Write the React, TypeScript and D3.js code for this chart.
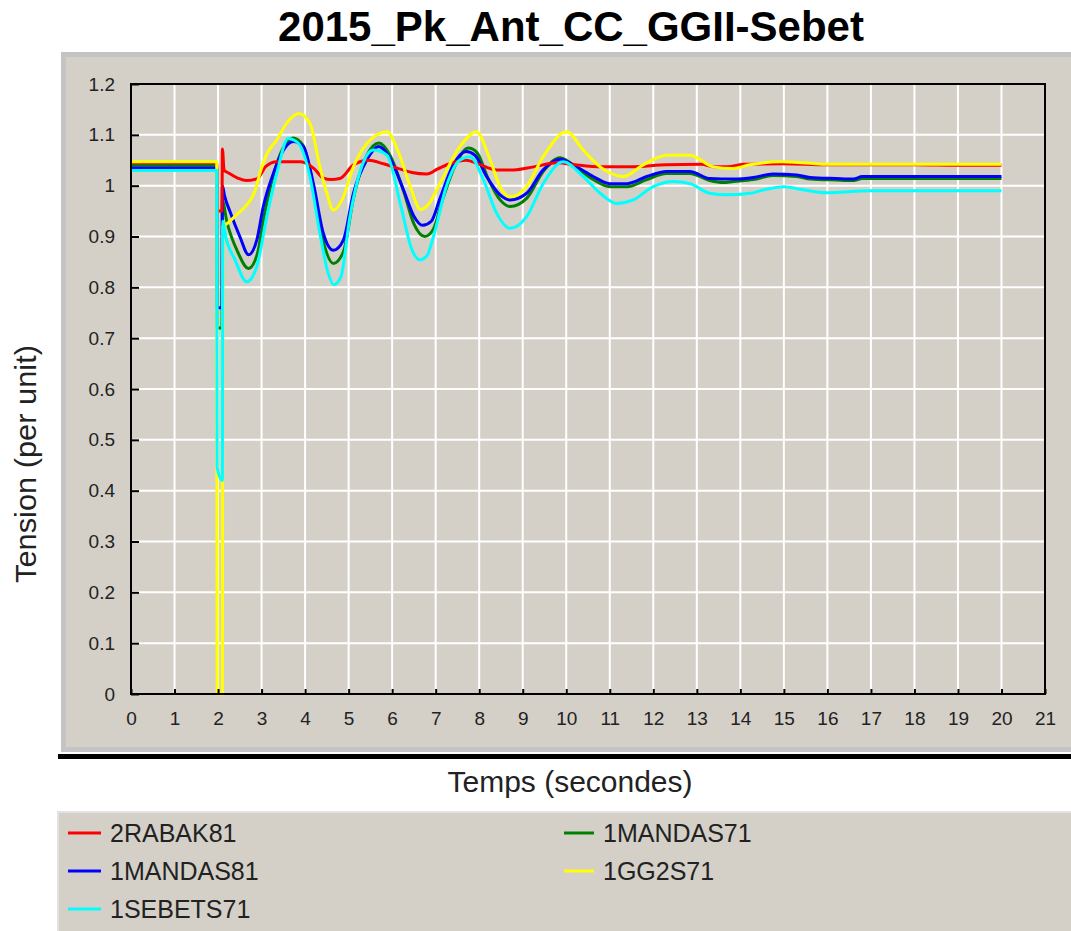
import { useRef, useEffect } from "react";
import * as d3 from "d3";

// [temps (s), tension (pu)]
const rabak81 = [
  [0, 1.045], [1.97, 1.045], [1.98, 0.95], [2.09, 0.95], [2.1, 1.072], [2.14, 1.03],
  [2.2, 1.027], [2.45, 1.015], [2.65, 1.01], [2.9, 1.014], [3.1, 1.038], [3.35, 1.047],
  [3.9, 1.047], [4.2, 1.034], [4.42, 1.015], [4.6, 1.012], [4.8, 1.014], [5.1, 1.04],
  [5.45, 1.05], [5.8, 1.043], [6.1, 1.035], [6.45, 1.026], [6.8, 1.023], [7.05, 1.033],
  [7.35, 1.044], [7.7, 1.05], [8.0, 1.042], [8.4, 1.031], [8.8, 1.031], [9.25, 1.037],
  [9.8, 1.045], [10.2, 1.041], [10.8, 1.037], [11.5, 1.037], [12.3, 1.041], [13.1, 1.042],
  [13.4, 1.037], [13.7, 1.037], [14.1, 1.042], [15.0, 1.043], [16, 1.041], [17, 1.041],
  [18, 1.041], [19, 1.04], [20, 1.04],
];

const mandas71 = [
  [0, 1.04], [1.97, 1.04], [1.98, 0.72], [2.09, 0.72], [2.1, 0.97], [2.2, 0.93],
  [2.45, 0.87], [2.7, 0.837], [2.9, 0.865], [3.06, 0.94], [3.27, 1.02], [3.5, 1.075],
  [3.72, 1.094], [3.95, 1.08], [4.19, 1.0], [4.42, 0.89], [4.65, 0.847], [4.88, 0.87],
  [5.11, 0.975], [5.42, 1.06], [5.7, 1.084], [5.95, 1.06], [6.26, 0.99], [6.5, 0.925],
  [6.75, 0.9], [6.95, 0.915], [7.15, 0.97], [7.45, 1.04], [7.75, 1.074], [7.95, 1.065],
  [8.2, 1.015], [8.48, 0.972], [8.71, 0.959], [9.09, 0.975], [9.47, 1.028], [9.86, 1.055],
  [10.24, 1.035], [10.62, 1.012], [11.0, 0.998], [11.4, 0.998], [11.85, 1.012], [12.3, 1.024],
  [12.84, 1.024], [13.3, 1.01], [13.6, 1.006], [13.84, 1.008], [14.3, 1.012], [14.75, 1.02],
  [15.3, 1.018], [15.6, 1.013], [16.2, 1.011], [16.6, 1.01], [16.8, 1.014], [20, 1.014],
];

const mandas81 = [
  [0, 1.035], [1.97, 1.035], [1.98, 0.76], [2.09, 0.76], [2.1, 1.0], [2.15, 0.98],
  [2.27, 0.95], [2.5, 0.9], [2.7, 0.864], [2.89, 0.893], [3.04, 0.959], [3.27, 1.024],
  [3.5, 1.07], [3.73, 1.087], [3.96, 1.077], [4.19, 1.004], [4.42, 0.906], [4.65, 0.873],
  [4.88, 0.893], [5.11, 0.985], [5.42, 1.051], [5.69, 1.077], [5.95, 1.054], [6.26, 0.992],
  [6.5, 0.94], [6.7, 0.922], [6.9, 0.93], [7.1, 0.975], [7.4, 1.04], [7.7, 1.067],
  [7.9, 1.06], [8.17, 1.018], [8.48, 0.982], [8.71, 0.972], [9.09, 0.985], [9.47, 1.031],
  [9.86, 1.052], [10.24, 1.037], [10.62, 1.018], [11.0, 1.004], [11.4, 1.004], [11.85, 1.018],
  [12.3, 1.028], [12.84, 1.028], [13.3, 1.014], [13.84, 1.013], [14.3, 1.016], [14.75, 1.023],
  [15.3, 1.021], [15.6, 1.016], [16.2, 1.014], [16.6, 1.013], [16.8, 1.018], [20, 1.018],
];

const gg2s71 = [
  [0, 1.047], [1.97, 1.047], [1.98, 0], [2.1, 0], [2.11, 0.92], [2.2, 0.925],
  [2.45, 0.945], [2.66, 0.962], [2.85, 0.99], [2.96, 1.024], [3.12, 1.062], [3.35, 1.09],
  [3.58, 1.123], [3.85, 1.142], [4.11, 1.123], [4.34, 1.037], [4.5, 0.985], [4.65, 0.952],
  [4.85, 0.972], [5.11, 1.037], [5.42, 1.083], [5.88, 1.106], [6.15, 1.065], [6.45, 0.99],
  [6.65, 0.953], [6.85, 0.965], [7.1, 1.005], [7.56, 1.077], [7.94, 1.106], [8.25, 1.051],
  [8.48, 0.998], [8.71, 0.978], [9.09, 0.998], [9.47, 1.057], [10.01, 1.106], [10.39, 1.07],
  [10.78, 1.037], [11.31, 1.018], [11.77, 1.041], [12.31, 1.06], [12.84, 1.06], [13.38, 1.037],
  [13.84, 1.034], [14.22, 1.041], [14.91, 1.047], [15.6, 1.044], [16, 1.042], [20, 1.042],
];

const sebets71 = [
  [0, 1.03], [1.97, 1.03], [1.98, 0.445], [2.1, 0.42], [2.11, 0.93], [2.16, 0.906],
  [2.39, 0.854], [2.66, 0.811], [2.89, 0.841], [3.12, 0.939], [3.35, 1.024], [3.61, 1.093],
  [3.85, 1.083], [4.11, 1.018], [4.34, 0.906], [4.53, 0.828], [4.66, 0.805], [4.82, 0.82],
  [5.03, 0.939], [5.3, 1.037], [5.57, 1.07], [5.88, 1.06], [6.2, 0.96], [6.45, 0.875],
  [6.64, 0.854], [6.8, 0.862], [6.95, 0.9], [7.25, 1.0], [7.55, 1.05], [7.79, 1.057],
  [8.1, 1.011], [8.4, 0.946], [8.71, 0.916], [9.09, 0.939], [9.47, 1.004], [9.93, 1.047],
  [10.39, 1.018], [10.78, 0.985], [11.16, 0.965], [11.54, 0.972], [12.0, 0.998], [12.46, 1.008],
  [12.84, 1.004], [13.3, 0.985], [13.69, 0.982], [14.22, 0.985], [14.6, 0.993], [15.0, 0.998],
  [15.37, 0.993], [15.98, 0.986], [16.98, 0.99], [20, 0.99],
];

const xTicks = [0, 1, 2, 3, 4, 5, 6, 7, 8, 9, 10, 11, 12, 13, 14, 15, 16, 17, 18, 19, 20, 21];
const yTicks = [0, 0.1, 0.2, 0.3, 0.4, 0.5, 0.6, 0.7, 0.8, 0.9, 1, 1.1, 1.2];

// drawing order (bottom to top)
const series = [
  { name: "1MANDAS71", color: "#008000", data: mandas71, col: 1, row: 0 },
  { name: "1MANDAS81", color: "#0000ff", data: mandas81, col: 0, row: 1 },
  { name: "2RABAK81", color: "#ff0000", data: rabak81, col: 0, row: 0 },
  { name: "1GG2S71", color: "#ffff00", data: gg2s71, col: 1, row: 1 },
  { name: "1SEBETS71", color: "#00ffff", data: sebets71, col: 0, row: 2 },
];

const FONT = "'Liberation Sans', Arial, sans-serif";

function VoltageChart() {
  const width = 1071,
    height = 931,
    plotLeft = 131,
    plotRight = 1045,
    plotTop = 84,
    plotBottom = 694;

  const gx = useRef(null),
    gy = useRef(null);

  const x = d3.scaleLinear().domain([0, 21]).range([plotLeft, plotRight]);
  const y = d3.scaleLinear().domain([0, 1.2]).range([plotBottom, plotTop]);

  const line = d3
    .line()
    .x((d) => x(d[0]))
    .y((d) => y(d[1]))
    .curve(d3.curveMonotoneX);

  useEffect(() => {
    d3.select(gx.current)
      .call(d3.axisBottom(x).tickValues(xTicks).tickSize(-5).tickPadding(18).tickFormat((d) => String(d)))
      .attr("font-size", 19)
      .attr("font-family", FONT)
      .call((g) => g.select(".domain").remove())
      .call((g) => g.selectAll(".tick line").attr("stroke", "#000").attr("stroke-width", 2))
      .call((g) => g.selectAll(".tick text").attr("fill", "#222"));
  }, []);

  useEffect(() => {
    d3.select(gy.current)
      .call(d3.axisLeft(y).tickValues(yTicks).tickSize(-8).tickPadding(16).tickFormat((d) => String(d)))
      .attr("font-size", 19)
      .attr("font-family", FONT)
      .call((g) => g.select(".domain").remove())
      .call((g) => g.selectAll(".tick line").attr("stroke", "#000").attr("stroke-width", 2))
      .call((g) => g.selectAll(".tick text").attr("fill", "#222"));
  }, []);

  const legendCols = [
    { x1: 68, x2: 101, tx: 110 },
    { x1: 564, x2: 594, tx: 603 },
  ];
  const legendRows = [833, 871, 909];

  return (
    <svg
      width={width}
      height={height}
      style={{ position: "absolute", left: 0, top: 0, background: "#fff" }}
    >
      <text x={571} y={41} textAnchor="middle" fontFamily={FONT} fontWeight="bold" fontSize={42} fill="#000">
        2015_Pk_Ant_CC_GGII-Sebet
      </text>

      {/* chart panel */}
      <rect x={61} y={52} width={1015} height={700} fill="#c4c4c4" />
      <rect x={66} y={57} width={1010} height={690} fill="#d4d0c8" />
      <rect x={58} y={754} width={1020} height={5} fill="#000" />

      {/* grid */}
      <g stroke="#fff" strokeWidth={2}>
        {xTicks.slice(1, -1).map((t) => (
          <line key={"gx" + t} x1={x(t)} x2={x(t)} y1={plotTop} y2={plotBottom} />
        ))}
        {yTicks.slice(1, -1).map((t) => (
          <line key={"gy" + t} x1={plotLeft} x2={plotRight} y1={y(t)} y2={y(t)} />
        ))}
      </g>

      <g fill="none" strokeWidth={3} strokeLinejoin="round">
        {series.map((s) => (
          <path key={s.name} d={line(s.data)} stroke={s.color} />
        ))}
      </g>

      <rect
        x={plotLeft}
        y={plotTop}
        width={plotRight - plotLeft}
        height={plotBottom - plotTop}
        fill="none"
        stroke="#000"
        strokeWidth={2}
      />
      <g ref={gx} transform={`translate(0,${plotBottom})`} />
      <g ref={gy} transform={`translate(${plotLeft},0)`} />

      <text
        transform="translate(36,464) rotate(-90)"
        textAnchor="middle"
        fontFamily={FONT}
        fontSize={30}
        fill="#222"
        textLength={238}
        lengthAdjust="spacingAndGlyphs"
      >
        Tension (per unit)
      </text>
      <text
        x={570}
        y={792}
        textAnchor="middle"
        fontFamily={FONT}
        fontSize={29}
        fill="#222"
        textLength={245}
        lengthAdjust="spacingAndGlyphs"
      >
        Temps (secondes)
      </text>

      {/* legend */}
      <rect x={58} y={812} width={1020} height={130} fill="#d4d0c8" stroke="#e2e2e2" strokeWidth={2} />
      {series.map((s) => {
        const c = legendCols[s.col];
        const ly = legendRows[s.row];
        return (
          <g key={"lg" + s.name}>
            <line x1={c.x1} x2={c.x2} y1={ly} y2={ly} stroke={s.color} strokeWidth={3} />
            <text x={c.tx} y={ly + 9} fontFamily={FONT} fontSize={25} fill="#222">
              {s.name}
            </text>
          </g>
        );
      })}
    </svg>
  );
}

export default function App() {
  return <VoltageChart />;
}
